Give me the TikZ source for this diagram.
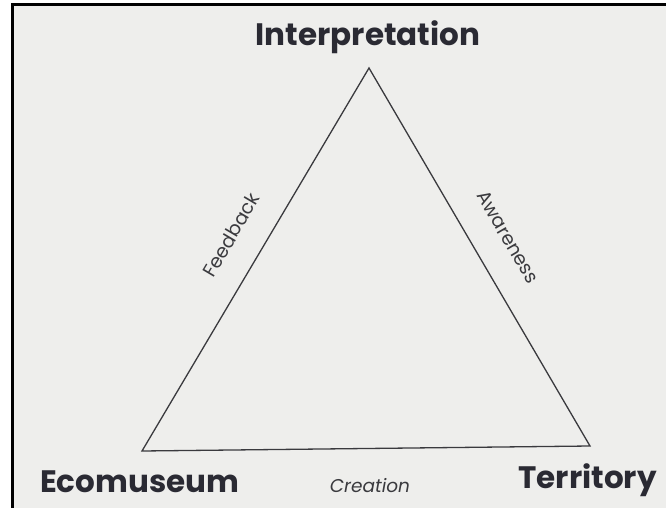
\documentclass[tikz,border=0pt]{standalone}
\usepackage{fontspec}
\setmainfont{Poppins}
\definecolor{paper}{HTML}{EEEEEC}
\definecolor{ink}{HTML}{3A3A3E}
\definecolor{inkdark}{HTML}{2A2A33}
\tikzset{
  corner/.style={font=\bfseries\fontsize{31}{34}\selectfont, text=inkdark, inner sep=0pt},
  edgelabel/.style={font=\fontsize{19}{22}\selectfont, text=ink, inner sep=0pt},
  tri/.style={draw=ink, line width=1.3pt, line join=miter}
}
\begin{document}
\begin{tikzpicture}[x=1pt,y=-1pt]
\useasboundingbox (0,0) rectangle (666,508);
\fill[white] (0,0) rectangle (666,508);
\fill[paper] (12,4) rectangle (666,508);
\draw[black, line width=3pt] (12.5,508) -- (12.5,4.5) -- (666,4.5);
\coordinate (top) at (369,68);
\coordinate (bl) at (142,451);
\coordinate (br) at (590,446);
\draw[tri] (top) -- (br) -- (bl) -- cycle;
\node[corner, anchor=base] (interp) at (368,46) {Interpretation};
\node[corner, anchor=base west] (eco) at (40,492) {Ecomuseum};
\node[corner, anchor=base east] (terr) at (657,488) {Territory};
\node[edgelabel, font=\itshape\fontsize{18.5}{21}\selectfont, anchor=base] (crea) at (370,492) {Creation};
\node[edgelabel, rotate=59.4] (feed) at (231,235) {Feedback};
\node[edgelabel, rotate=-59.7] (aware) at (508,237) {Awareness};
\end{tikzpicture}
\end{document}
